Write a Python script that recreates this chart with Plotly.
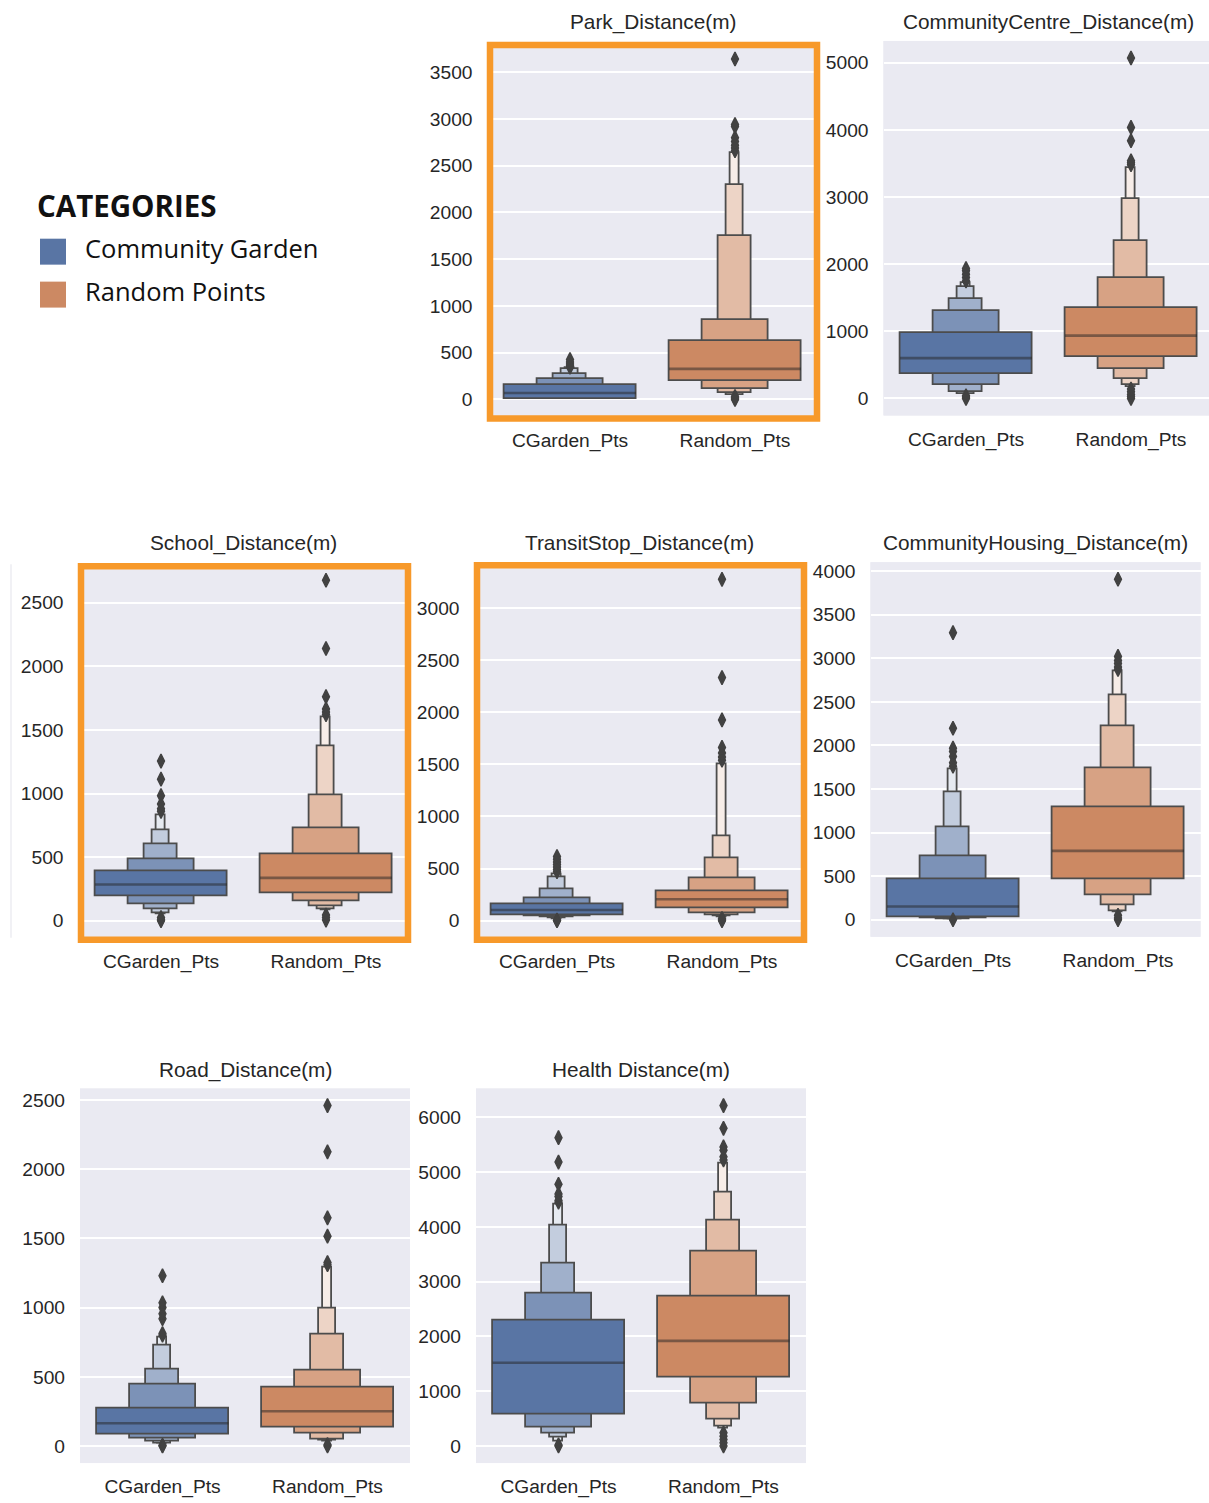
import plotly.graph_objects as go

FIG_W, FIG_H = 1209, 1503

# ---- data: letter-value boxes (lower, upper) from the IQR outward, medians, outliers ----
group_names = ["CGarden_Pts", "Random_Pts"]
legend_labels = ["Community Garden", "Random Points"]

panel_titles = [
    "Park_Distance(m)",
    "CommunityCentre_Distance(m)",
    "School_Distance(m)",
    "TransitStop_Distance(m)",
    "CommunityHousing_Distance(m)",
    "Road_Distance(m)",
    "Health Distance(m)",
]

# Park
park_garden_levels = [(7, 160), (2, 220), (1, 277), (0.5, 327), (0.3, 340)]
park_garden_median = 68
park_garden_outliers = [345, 360, 380, 400, 426]
park_random_levels = [(195, 622), (117, 846), (71, 1748), (53, 2299), (43, 2637)]
park_random_median = 327
park_random_outliers = [0, 10, 20, 30, 2660, 2690, 2720, 2760, 2800, 2920, 2940, 3642]

# Community centre
cc_garden_levels = [(359, 975), (197, 1309), (103, 1487), (74, 1664), (60, 1720)]
cc_garden_median = 600
cc_garden_outliers = [0, 20, 40, 1750, 1800, 1850, 1900, 1934]
cc_random_levels = [(615, 1354), (438, 1797), (285, 2338), (197, 2968), (177, 3436)]
cc_random_median = 935
cc_random_outliers = [0, 30, 60, 100, 140, 3480, 3510, 3540, 3839, 4036, 5070]

# School
school_garden_levels = [(192, 386), (127, 480), (88, 602), (62, 708), (49, 830)]
school_garden_median = 285
school_garden_outliers = [0, 10, 25, 860, 880, 918, 983, 1113, 1255]
school_random_levels = [(215, 519), (150, 724), (114, 983), (91, 1374), (80, 1600)]
school_random_median = 337
school_random_outliers = [5, 25, 45, 1620, 1640, 1665, 1761, 2140, 2676]

# Transit stop
transit_garden_levels = [(54, 159), (41, 219), (29, 305), (22, 413), (18, 450)]
transit_garden_median = 102
transit_garden_outliers = [0, 5, 470, 490, 514, 540, 562, 590, 616]
transit_random_levels = [(124, 286), (73, 403), (54, 603), (44, 806), (35, 1505)]
transit_random_median = 206
transit_random_outliers = [0, 10, 20, 1540, 1571, 1610, 1663, 1927, 2333, 3276]

# Community housing
housing_garden_levels = [(30, 463), (15, 733), (8, 1056), (4, 1462), (3, 1728)]
housing_garden_median = 152
housing_garden_outliers = [0, 1760, 1800, 1873, 1930, 1968, 2196, 3293]
housing_random_levels = [(463, 1295), (277, 1740), (163, 2222), (99, 2575), (87, 2853)]
housing_random_median = 790
housing_random_outliers = [0, 20, 50, 2870, 2898, 2940, 2974, 3020, 3905]

# Road
road_garden_levels = [(81, 270), (55, 447), (31, 556), (21, 723), (16, 786)]
road_garden_median = 165
road_garden_outliers = [0, 5, 800, 812, 919, 955, 1000, 1034, 1230]
road_random_levels = [(136, 425), (88, 544), (48, 805), (36, 996), (31, 1289)]
road_random_median = 251
road_random_outliers = [0, 10, 1310, 1325, 1516, 1648, 2125, 2459]

# Health
health_garden_levels = [(573, 2292), (332, 2774), (229, 3329), (151, 4029), (78, 4403)]
health_garden_median = 1520
health_garden_outliers = [0, 20, 4450, 4480, 4553, 4600, 4777, 5181, 5627]
health_random_levels = [(1248, 2732), (772, 3552), (489, 4119), (362, 4626), (314, 5157)]
health_random_median = 1918
health_random_outliers = [0, 60, 120, 180, 240, 5220, 5277, 5398, 5458, 5796, 6212]

panel_data = [
    [(park_garden_levels, park_garden_median, park_garden_outliers),
     (park_random_levels, park_random_median, park_random_outliers)],
    [(cc_garden_levels, cc_garden_median, cc_garden_outliers),
     (cc_random_levels, cc_random_median, cc_random_outliers)],
    [(school_garden_levels, school_garden_median, school_garden_outliers),
     (school_random_levels, school_random_median, school_random_outliers)],
    [(transit_garden_levels, transit_garden_median, transit_garden_outliers),
     (transit_random_levels, transit_random_median, transit_random_outliers)],
    [(housing_garden_levels, housing_garden_median, housing_garden_outliers),
     (housing_random_levels, housing_random_median, housing_random_outliers)],
    [(road_garden_levels, road_garden_median, road_garden_outliers),
     (road_random_levels, road_random_median, road_random_outliers)],
    [(health_garden_levels, health_garden_median, health_garden_outliers),
     (health_random_levels, health_random_median, health_random_outliers)],
]
panel_dtick = [500, 1000, 500, 500, 500, 500, 1000]
highlighted = [True, False, True, True, False, False, False]

# ---- layout of the grid, in pixels: (x0, x1, y_top, y_bottom) ----
panel_boxes = [
    (487.5, 817.5, 40, 415),
    (883.5, 1213.5, 39, 414),
    (78.5, 408.5, 562, 937),
    (474.5, 804.5, 561, 937),
    (870.5, 1200.5, 561, 936),
    (80, 410, 1088, 1463),
    (476, 806, 1088, 1463),
]
title_y_px = [20, 20, 542, 542, 542, 1069, 1069]

base_colors = [(89, 117, 164), (204, 137, 99)]
EDGE = "#4c4c4c"
BG = "#EAEAF2"
TEXT = "#262626"
FRAME = "#F7992A"
FONT = "Arial, Liberation Sans, sans-serif"
TICK_SIZE = 19.2
TITLE_SIZE = 20.8


def px_x(x):
    return x / FIG_W


def px_y(y):
    return 1 - y / FIG_H


def level_color(base, j, n):
    t = 0.85 * (j / (n - 1)) if n > 1 else 0
    r, g, b = (round(c + t * (255 - c)) for c in base)
    return f"rgb({r},{g},{b})"


fig = go.Figure()
layout_axes = {}
shapes = []
annotations = []

for p, groups in enumerate(panel_data):
    k = p + 1
    xa, ya = f"x{k}", f"y{k}"
    x0, x1, yt, yb = panel_boxes[p]

    all_vals = []
    for gi, (levels, med, outs) in enumerate(groups):
        n = len(levels)
        # narrow (outer) boxes first so the wide inner boxes sit on top
        for j in reversed(range(n)):
            lo, hi = levels[j]
            w = 0.8 / (2 ** j)
            fig.add_trace(go.Bar(
                x=[gi], y=[hi - lo], base=[lo], width=[w],
                marker=dict(color=level_color(base_colors[gi], j, n),
                            line=dict(color=EDGE, width=1.8)),
                xaxis=xa, yaxis=ya, showlegend=False, hoverinfo="skip",
            ))
            all_vals += [lo, hi]
        # median line across the widest box
        fig.add_trace(go.Scatter(
            x=[gi - 0.4, gi + 0.4], y=[med, med], mode="lines",
            line=dict(color="rgba(38,38,38,0.5)", width=2.6),
            xaxis=xa, yaxis=ya, showlegend=False, hoverinfo="skip",
        ))
        fig.add_trace(go.Scatter(
            x=[gi] * len(outs), y=outs, mode="markers",
            marker=dict(symbol="diamond-tall", size=10, color="#424242",
                        line=dict(width=1.4, color="#424242")),
            xaxis=xa, yaxis=ya, showlegend=False, hoverinfo="skip",
        ))
        all_vals += list(outs)

    vmin, vmax = min(all_vals), max(all_vals)
    pad = 0.05 * (vmax - vmin)

    # x axis is clipped at the right edge of the figure
    x1c = min(x1, FIG_W)
    xr_hi = 1.5 - (x1 - x1c) / (x1 - x0) * 2.0

    ax_suffix = "" if k == 1 else str(k)
    layout_axes["xaxis" + ax_suffix] = dict(
        domain=[px_x(x0), px_x(x1c)], anchor=ya, range=[-0.5, xr_hi],
        tickvals=[0, 1], ticktext=group_names, showgrid=False, zeroline=False,
        showline=False, ticks="", ticklabelstandoff=10,
        tickfont=dict(family=FONT, size=TICK_SIZE, color=TEXT), fixedrange=True,
    )
    layout_axes["yaxis" + ax_suffix] = dict(
        domain=[px_y(yb), px_y(yt)], anchor=xa, range=[vmin - pad, vmax + pad],
        dtick=panel_dtick[p], tick0=0, showgrid=True, gridcolor="white",
        gridwidth=1.5, zeroline=False, showline=False, ticks="",
        ticklabelstandoff=14, tickfont=dict(family=FONT, size=TICK_SIZE, color=TEXT),
        fixedrange=True,
    )
    # panel background
    shapes.append(dict(type="rect", xref="paper", yref="paper",
                       x0=px_x(x0), x1=px_x(x1c), y0=px_y(yb), y1=px_y(yt),
                       fillcolor=BG, line=dict(width=0), layer="below"))
    annotations.append(dict(
        text=panel_titles[p], xref="paper", yref="paper",
        x=px_x((x0 + x1) / 2), y=px_y(title_y_px[p]),
        xanchor="center", yanchor="middle", showarrow=False,
        font=dict(family=FONT, size=TITLE_SIZE, color=TEXT),
    ))
    if highlighted[p]:
        shapes.append(dict(type="rect", xref="paper", yref="paper",
                           x0=px_x(x0 + 2.5), x1=px_x(x1 - 0.5),
                           y0=px_y(yb + 2), y1=px_y(yt + 3),
                           line=dict(color=FRAME, width=6.5),
                           fillcolor="rgba(0,0,0,0)", layer="above"))

# faint edge line at the far left of the middle row
shapes.append(dict(type="line", xref="paper", yref="paper",
                   x0=px_x(11), x1=px_x(11), y0=px_y(937), y1=px_y(563),
                   line=dict(color="#E8E8EE", width=1.2), layer="below"))

# category key
annotations.append(dict(text="<b>CATEGORIES</b>", xref="paper", yref="paper",
                        x=px_x(35), y=px_y(204), xanchor="left", yanchor="middle",
                        showarrow=False,
                        font=dict(family="Open Sans", size=29.5, color="#111111")))
key_rows_px = [250, 293]
for i, label in enumerate(legend_labels):
    cy = key_rows_px[i]
    r, g, b = base_colors[i]
    shapes.append(dict(type="rect", xref="paper", yref="paper",
                       x0=px_x(40), x1=px_x(66), y0=px_y(cy + 13), y1=px_y(cy - 13),
                       fillcolor=f"rgb({r},{g},{b})", line=dict(width=0)))
    annotations.append(dict(text=label, xref="paper", yref="paper",
                            x=px_x(83), y=px_y(cy - 4), xanchor="left",
                            yanchor="middle", showarrow=False,
                            font=dict(family="Open Sans", size=25.5, color="#111111")))

fig.update_layout(
    width=FIG_W, height=FIG_H,
    margin=dict(l=0, r=0, t=0, b=0),
    paper_bgcolor="white", plot_bgcolor=BG,
    barmode="overlay", bargap=0,
    shapes=shapes, annotations=annotations,
    showlegend=False,
    **layout_axes,
)

fig.write_html("out.html", config={"displayModeBar": False})
